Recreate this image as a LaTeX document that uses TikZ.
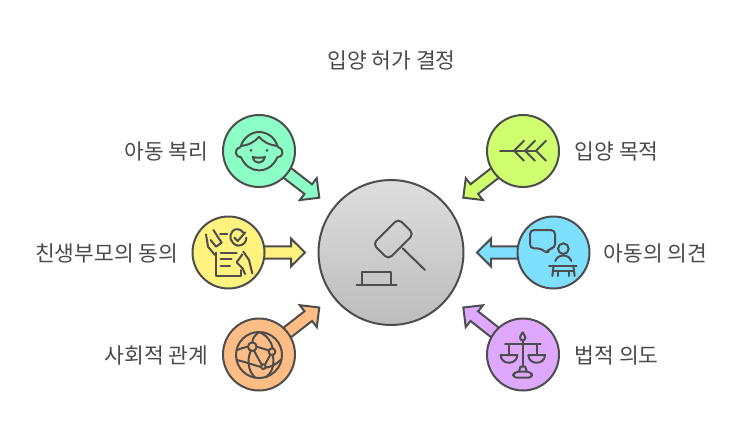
\documentclass[tikz,border=0pt]{standalone}
\usepackage{fontspec}
\setmainfont{Noto Sans CJK KR}
\usetikzlibrary{calc}
\definecolor{ln}{HTML}{4D4D4D}
\definecolor{txt}{HTML}{4A4A4A}
\definecolor{cgreen}{HTML}{8CFFC6}
\definecolor{cyellow}{HTML}{FFF27F}
\definecolor{corange}{HTML}{FFBD85}
\definecolor{clime}{HTML}{CFFF6F}
\definecolor{cblue}{HTML}{7FDFFF}
\definecolor{cpurple}{HTML}{DFA8FF}
\tikzset{
  outline/.style={draw=ln,line width=1.5pt,line join=round},
  bubble/.style={outline,circle,minimum size=54pt,inner sep=0pt},
  icon/.style={draw=ln,line width=1.5pt,line cap=round,line join=round},
  lab/.style={text=txt,font=\fontsize{16.1pt}{19pt}\selectfont,inner sep=0pt},
  zoomed/.style={x=.25pt,y=-.25pt}
}
\newcommand\fatarrow[3]{
  \coordinate (bb) at ($(#2)!10.5pt!(#1)$);
  \draw[outline,line join=miter,fill=#3] ($(#1)!4.6pt!90:(#2)$) -- ($(bb)!4.6pt!90:(#2)$) -- ($(bb)!10.4pt!90:(#2)$)
    -- (#2) -- ($(bb)!10.4pt!-90:(#2)$) -- ($(bb)!4.6pt!-90:(#2)$) -- ($(#1)!4.6pt!-90:(#2)$) -- cycle;
}
\begin{document}
\begin{tikzpicture}[x=.75pt,y=-.75pt]
\useasboundingbox (0,0) rectangle (746,440);
\coordinate (t1) at (319.3,197.7);
\coordinate (t2) at (305,252.5);
\coordinate (t3) at (319.3,307.5);
\coordinate (t4) at (463.3,197.7);
\coordinate (t5) at (477,252.5);
\coordinate (t6) at (463.3,307.5);
\path (259,151) coordinate (c1) (228.5,252.5) coordinate (c2) (259,354.5) coordinate (c3)
      (523,151) coordinate (c4) (553.5,252.5) coordinate (c5) (523,354.5) coordinate (c6);
\fatarrow{c1}{t1}{cgreen}
\fatarrow{c2}{t2}{cyellow}
\fatarrow{c3}{t3}{corange}
\fatarrow{c4}{t4}{clime}
\fatarrow{c5}{t5}{cblue}
\fatarrow{c6}{t6}{cpurple}
\node[bubble,fill=cgreen] (n1) at (c1) {};
\node[bubble,fill=cyellow] (n2) at (c2) {};
\node[bubble,fill=corange] (n3) at (c3) {};
\node[bubble,fill=clime] (n4) at (c4) {};
\node[bubble,fill=cblue] (n5) at (c5) {};
\node[bubble,fill=cpurple] (n6) at (c6) {};
\node[outline,circle,minimum size=108.7pt,inner sep=0pt,top color=black!13,bottom color=black!26] (hub) at (391,252.5) {};
% gavel
\begin{scope}[shift={(310,170)},zoomed]
\draw[icon,rounded corners=3.5pt] (265,146)--(311,192)--(235,268)--(189,222)--cycle;
\draw[icon] (278,235)--(345,300);
\draw[icon] (157,345)--(157,306)--(244,306)--(244,345);
\draw[icon] (140,345)--(260,345);
\end{scope}
% face
\begin{scope}[shift={(190,100)},zoomed]
\draw[icon] (152,140) .. controls (160,112) and (185,96) .. (207,96) .. controls (232,96) and (255,112) .. (263,140);
\draw[icon] (152,138) .. controls (178,135) and (195,125) .. (207,110) .. controls (218,125) and (238,135) .. (263,138);
\draw[icon] (150,142) .. controls (130,148) and (136,172) .. (153,172) .. controls (165,198) and (185,211) .. (207,211) .. controls (230,211) and (250,198) .. (262,172) .. controls (280,172) and (284,148) .. (265,142);
\draw[icon] (188,171) .. controls (198,174) and (215,174) .. (225,171) .. controls (222,183) and (213,188) .. (206,188) .. controls (198,188) and (191,183) .. (188,171) -- cycle;
\fill[ln] (183,151) circle (4.5);
\fill[ln] (231,151) circle (4.5);
\end{scope}
% document and hands
\begin{scope}[shift={(180,205)},zoomed]
\draw[icon] (190,83) .. controls (182,70) and (165,70) .. (158,78) .. controls (145,90) and (150,118) .. (175,122) .. controls (190,122) and (200,110) .. (199,98);
\draw[icon] (163,98)--(173,108)--(196,82);
\draw[icon] (120,88)--(142,88);
\draw[icon] (108,143)--(108,212)--(183,212)--(183,195);
\draw[icon] (122,143)--(170,143);
\draw[icon] (122,163)--(155,163);
\draw[icon] (122,182)--(150,182);
\draw[icon] (78,88)--(84,125)--(105,150);
\draw[icon] (100,75)--(125,113)--(108,125)--(92,105);
\draw[icon] (190,140)--(207,165)--(217,205);
\draw[icon] (187,148)--(170,172)--(188,190)--(195,207);
\end{scope}
% globe
\begin{scope}[shift={(210,300)},zoomed]
\draw[icon] (147,165) circle (69);
\draw[icon] (127,140) circle (13);
\draw[icon] (186,155) circle (10);
\draw[icon] (160,200) circle (7);
\draw[icon] (82,150) .. controls (92,145) and (103,142) .. (114,140);
\draw[icon] (140,140) -- (176,151);
\draw[icon] (132,152) -- (155,194);
\draw[icon] (181,164) -- (165,194);
\draw[icon] (153,201) .. controls (130,195) and (105,185) .. (80,180);
\draw[icon] (167,203) .. controls (185,200) and (200,192) .. (214,178);
\draw[icon] (147,96) .. controls (170,105) and (185,125) .. (188,145);
\draw[icon] (188,165) .. controls (195,195) and (185,220) .. (167,232);
\draw[icon] (122,153) .. controls (110,180) and (115,215) .. (135,232);
\draw[icon] (147,96) .. controls (135,105) and (127,115) .. (127,127);
\end{scope}
% fishbone arrow
\begin{scope}[shift={(450,105)},zoomed]
\draw[icon] (150,137)--(258,137);
\draw[icon] (222,107)--(192,137)--(222,167);
\draw[icon] (255,107)--(225,137)--(255,167);
\draw[icon] (288,107)--(258,137)--(288,167);
\end{scope}
% speech and desk
\begin{scope}[shift={(465,205)},zoomed]
\draw[icon,rounded corners=3pt] (195,75)--(270,75)--(270,130)--(250,130)--(248,147)--(228,130)--(195,130)--cycle;
\draw[icon] (295,131) circle (16);
\draw[icon] (271,168) .. controls (278,146) and (312,146) .. (319,168);
\draw[icon] (252,182)--(335,182);
\draw[icon] (266,182)--(262,213);
\draw[icon] (325,182)--(329,213);
\draw[icon] (278,213)--(278,198)--(311,198)--(311,213);
\draw[icon] (266,198)--(278,198) (311,198)--(326,198);
\end{scope}
% scales
\begin{scope}[shift={(450,300)},zoomed]
\draw[icon] (218,97) .. controls (222,104) and (226,108) .. (226,113) .. controls (226,124) and (210,124) .. (210,113) .. controls (210,108) and (214,104) .. (218,97) -- cycle;
\draw[icon] (218,122)--(218,200);
\draw[icon] (165,133)--(272,133);
\draw[icon] (177,133)--(177,165) (260,133)--(260,165);
\draw[icon] (152,165)--(202,165) .. controls (202,196) and (152,196) .. (152,165);
\draw[icon] (235,165)--(285,165) .. controls (285,196) and (235,196) .. (235,165);
\draw[icon] (207,215)--(211,200)--(226,200)--(230,215);
\draw[icon,rounded corners=3pt] (188,233)--(192,215)--(244,215)--(248,233)--cycle;
\end{scope}
% labels
\node[lab,anchor=center] (title) at (391.5,60) {입양 허가 결정};
\node[lab,anchor=east] (l1) at (208.5,151) {아동 복리};
\node[lab,anchor=east] (l2) at (178.5,253) {친생부모의 동의};
\node[lab,anchor=east] (l3) at (208.5,355) {사회적 관계};
\node[lab,anchor=west] (l4) at (574.5,151) {입양 목적};
\node[lab,anchor=west] (l5) at (603.5,253) {아동의 의견};
\node[lab,anchor=west] (l6) at (574.5,355) {법적 의도};
\end{tikzpicture}
\end{document}
